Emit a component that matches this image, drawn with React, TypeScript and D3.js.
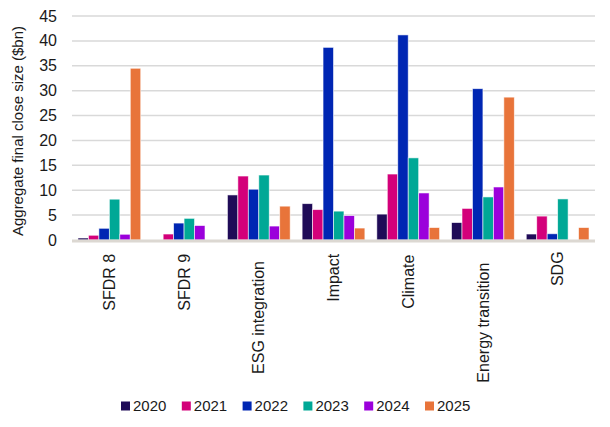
import React from "react";
import * as d3 from "d3";

const categories = ["SFDR 8", "SFDR 9", "ESG integration", "Impact", "Climate", "Energy transition", "SDG"];
const years = ["2020", "2021", "2022", "2023", "2024", "2025"];
const colors = ["#1f0b57", "#d3007a", "#0026b3", "#00a896", "#9b00db", "#e8743a"];

const v2020 = [0.4, 0, 9.05, 7.3, 5.2, 3.5, 1.2];
const v2021 = [0.95, 1.2, 12.85, 6.1, 13.25, 6.35, 4.8];
const v2022 = [2.35, 3.4, 10.2, 38.7, 41.2, 30.4, 1.25];
const v2023 = [8.2, 4.35, 13.05, 5.8, 16.5, 8.65, 8.25];
const v2024 = [1.15, 2.9, 2.8, 4.9, 9.45, 10.65, 0];
const v2025 = [34.5, 0, 6.8, 2.4, 2.5, 28.7, 2.5];
const series = [v2020, v2021, v2022, v2023, v2024, v2025];

const yTicks = [0, 5, 10, 15, 20, 25, 30, 35, 40, 45];

const W = 610;
const H = 427;
const m = { left: 72, right: 15, top: 16, bottom: 187 };
const FONT = "'Liberation Sans', Arial, sans-serif";
const INK = "#1a1a1a";

export default function App() {
  const x0 = d3
    .scaleBand<string>()
    .domain(categories)
    .range([m.left, W - m.right])
    .paddingInner(0.16)
    .paddingOuter(0.08);
  const x1 = d3.scaleBand<string>().domain(years).range([0, x0.bandwidth()]).padding(0);
  const y = d3.scaleLinear().domain([0, 45]).range([H - m.bottom, m.top]);
  const y0 = y(0);

  return (
    <svg width={W} height={H} style={{ position: "absolute", left: 0, top: 0, background: "#fff" }}>
      {yTicks.map((t) => (
        <g key={t}>
          {t > 0 && (
            <line x1={m.left} x2={W - m.right} y1={y(t)} y2={y(t)} stroke="#d9d9d9" strokeWidth={1.5} />
          )}
          <text x={57} y={y(t)} dy="0.35em" textAnchor="end" fontFamily={FONT} fontSize={16} fill={INK}>
            {t}
          </text>
        </g>
      ))}
      <text
        transform={`translate(17.5,131) rotate(-90)`}
        textAnchor="middle"
        dy="0.35em"
        fontFamily={FONT}
        fontSize={15}
        fill={INK}
      >
        Aggregate final close size ($bn)
      </text>
      {categories.map((c, ci) => (
        <g key={c} transform={`translate(${x0(c)},0)`}>
          {series.map((s, si) =>
            s[ci] > 0 ? (
              <rect
                key={si}
                x={x1(years[si])}
                y={y(s[ci])}
                width={x1.bandwidth()}
                height={y0 - y(s[ci])}
                fill={colors[si]}
                stroke="#ffffff"
                strokeOpacity={0.7}
                strokeWidth={0.8}
              />
            ) : null
          )}
        </g>
      ))}
      <line x1={m.left} x2={W - m.right} y1={y0 + 1} y2={y0 + 1} stroke="#dcd8d2" strokeWidth={3} />
      {categories.map((c) => (
        <text
          key={c}
          transform={`translate(${(x0(c) as number) + x0.bandwidth() / 2},${249 + c.length * 0.8}) rotate(-90)`}
          textAnchor="end"
          dy="0.35em"
          fontFamily={FONT}
          fontSize={16}
          fill={INK}
        >
          {c}
        </text>
      ))}
      {years.map((yr, i) => {
        const lx = 121 + i * 60.8;
        return (
          <g key={yr} transform={`translate(${lx},406)`}>
            <rect x={0} y={-4.5} width={9} height={9} fill={colors[i]} />
            <text x={12} dy="0.35em" fontFamily={FONT} fontSize={15} fill={INK}>
              {yr}
            </text>
          </g>
        );
      })}
    </svg>
  );
}
